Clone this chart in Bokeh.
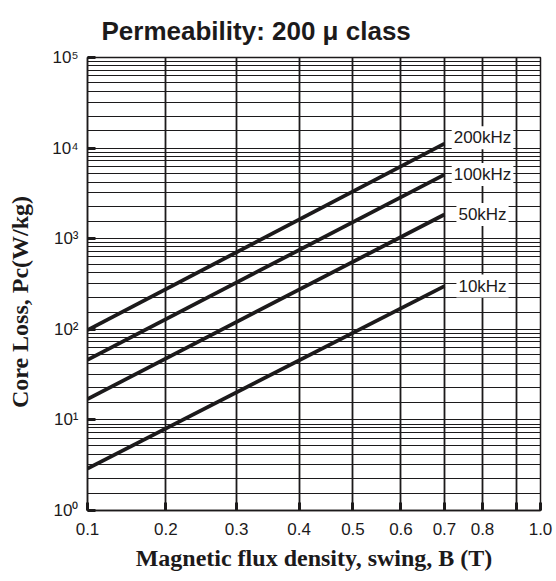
import numpy as np
from bokeh.plotting import figure
from bokeh.models import FixedTicker, Label, Range1d
from bokeh.embed import file_html
from bokeh.resources import INLINE

# ---- axis definitions ----
# flux density ticks and their place along the printed (non-log) scale, in per-mille of the axis
b_ticks = [0.1, 0.2, 0.3, 0.4, 0.5, 0.6, 0.7, 0.8, 0.9, 1.0]
b_tick_pos = [0, 173, 329, 467, 586, 692, 788, 872, 946, 1000]
b_labels = ["0.1", "0.2", "0.3", "0.4", "0.5", "0.6", "0.7", "0.8", "", "1.0"]

y_decades = [1, 10, 100, 1000, 10000, 100000]
y_labels = ["10\u2070", "10\u00b9", "10\u00b2", "10\u00b3", "10\u2074", "10\u2075"]
y_minor_mult = [1.55, 2.25, 3.2, 4.2, 5.25, 6.3, 7.25, 8.15, 9.0]

title_text = "Permeability: 200 \u03bc class"

# ---- series ----
freqs = ["200kHz", "100kHz", "50kHz", "10kHz"]
b_points = [0.1, 0.7]
loss_200k = [98, 11200]
loss_100k = [46, 5100]
loss_50k = [17, 1850]
loss_10k = [2.9, 300]
label_b = 0.8

def to_pos(b):
    return np.interp(b, b_ticks, b_tick_pos)

INK = "#1c1a1b"

p = figure(width=556, height=581, x_range=Range1d(0, 1000), y_range=Range1d(1, 100000),
           y_axis_type="log", output_backend="svg", toolbar_location=None,
           min_border_left=87, min_border_right=16, min_border_top=57, min_border_bottom=71)
p.background_fill_color = "white"
p.border_fill_color = "white"
p.outline_line_color = INK
p.outline_line_width = 1.5

# title
p.title.text = title_text
p.title.text_font = "Liberation Sans"
p.title.text_font_style = "bold"
p.title.text_font_size = "26px"
p.title.text_color = INK
p.title.align = "left"
p.title.offset = 14
p.title.standoff = 24

# x axis
xt = FixedTicker(ticks=b_tick_pos)
p.xaxis.ticker = xt
p.xaxis.major_label_overrides = {pos: lab for pos, lab in zip(b_tick_pos, b_labels)}
p.xaxis.major_label_text_font = "Liberation Sans"
p.xaxis.major_label_text_font_size = "17px"
p.xaxis.major_label_text_color = INK
p.xaxis.major_label_standoff = 12
p.xaxis.axis_label = "Magnetic flux density, swing, B (T)"
p.xaxis.axis_label_text_font = "Liberation Serif"
p.xaxis.axis_label_text_font_style = "bold"
p.xaxis.axis_label_text_font_size = "24px"
p.xaxis.axis_label_text_color = INK
p.xaxis.axis_label_standoff = 7

# y axis
y_minor = [m * d for d in y_decades[:-1] for m in y_minor_mult]
yt = FixedTicker(ticks=y_decades, minor_ticks=y_minor)
p.yaxis.ticker = yt
p.yaxis.major_label_overrides = {d: lab for d, lab in zip(y_decades, y_labels)}
p.yaxis.major_label_text_font = "Liberation Sans"
p.yaxis.major_label_text_font_size = "17px"
p.yaxis.major_label_text_color = INK
p.yaxis.major_label_standoff = 5
p.yaxis.axis_label = "Core Loss, Pc(W/kg)" + "\u00a0" * 6
p.yaxis.axis_label_text_font = "Liberation Serif"
p.yaxis.axis_label_text_font_style = "bold"
p.yaxis.axis_label_text_font_size = "24px"
p.yaxis.axis_label_text_color = INK
p.yaxis.axis_label_standoff = 16

for ax in (p.xaxis, p.yaxis):
    ax.axis_line_color = INK
    ax.axis_line_width = 1.5
    ax.major_tick_in = 8
    ax.major_tick_out = 0
    ax.major_tick_line_width = 3
    ax.major_tick_line_color = INK
    ax.minor_tick_line_color = None

# grids
p.xgrid.ticker = xt
p.xgrid.grid_line_color = INK
p.xgrid.grid_line_width = 1.8
p.ygrid.ticker = yt
p.ygrid.grid_line_color = INK
p.ygrid.grid_line_width = 1.2
p.ygrid.minor_grid_line_color = INK
p.ygrid.minor_grid_line_width = 1.2

# curves
series = [loss_200k, loss_100k, loss_50k, loss_10k]
label_dy = {"200kHz": 6}
for name, vals in zip(freqs, series):
    p.line(x=to_pos(b_points), y=vals, line_width=3.8, line_color=INK)
    lab = Label(x=float(to_pos(label_b)), y=vals[-1], text=name,
                text_align="center", text_baseline="middle",
                y_offset=label_dy.get(name, 0),
                text_font="Liberation Sans", text_font_size="17px", text_color=INK,
                background_fill_color="white", padding=2)
    p.add_layout(lab)

open("out.html", "w").write(file_html(p, INLINE))
